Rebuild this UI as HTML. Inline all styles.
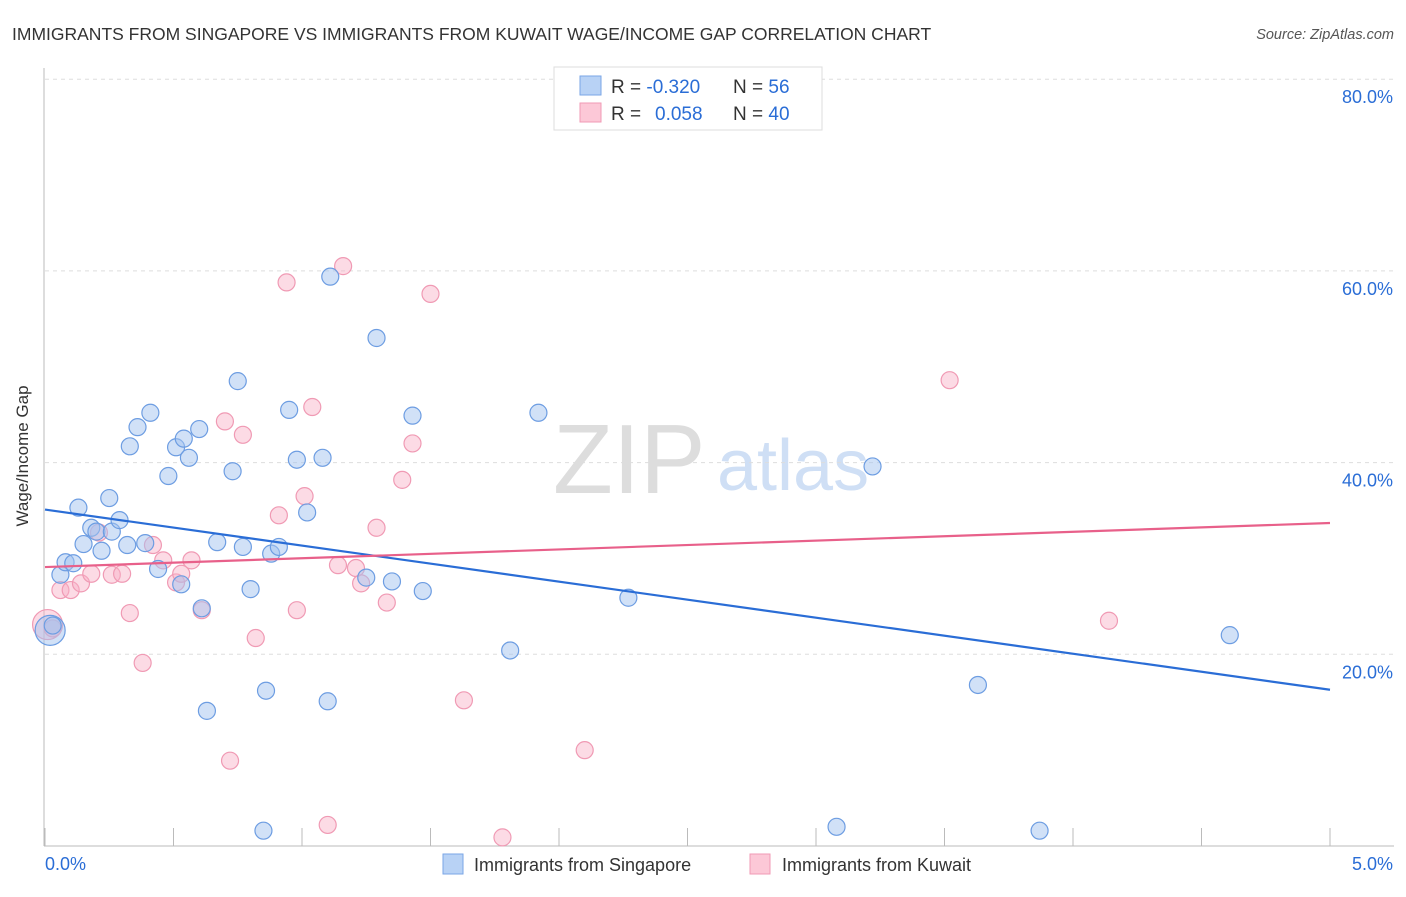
<!DOCTYPE html>
<html><head><meta charset="utf-8"><style>
body{margin:0;background:#fff;font-family:"Liberation Sans",sans-serif}
svg text{font-family:"Liberation Sans",sans-serif}
</style></head><body>
<svg id="c" width="1406" height="892">
<text x="12" y="40" font-size="17.5" fill="#333">IMMIGRANTS FROM SINGAPORE VS IMMIGRANTS FROM KUWAIT WAGE/INCOME GAP CORRELATION CHART</text>
<text x="1394" y="39" font-size="14.5" fill="#555" font-style="italic" text-anchor="end">Source: ZipAtlas.com</text>
<text x="28" y="456" font-size="17" fill="#333" text-anchor="middle" transform="rotate(-90 28 456)">Wage/Income Gap</text>
<g><text x="553" y="493" font-size="98" fill="#ddd" font-family="Liberation Serif,serif">ZIP</text><text x="717" y="490" font-size="72" fill="#cfdff5">atlas</text></g>
<g id="grid"></g><g id="axes"></g><g id="pts"></g><g id="lines"></g>
<g>
<rect x="554" y="67" width="268" height="63" fill="#fff" stroke="#ddd"/>
<rect x="580" y="76" width="21" height="19" fill="#b8d2f5" stroke="#7aa6e6"/>
<rect x="580" y="103" width="21" height="19" fill="#fcc8d7" stroke="#f09ab4"/>
<text x="611" y="93" font-size="19" fill="#333">R = <tspan fill="#2a6dd6">-0.320</tspan></text>
<text x="733" y="93" font-size="19" fill="#333">N = <tspan fill="#2a6dd6">56</tspan></text>
<text x="611" y="120" font-size="19" fill="#333">R = <tspan fill="#2a6dd6" x="655">0.058</tspan></text>
<text x="733" y="120" font-size="19" fill="#333">N = <tspan fill="#2a6dd6">40</tspan></text>
</g>
<g>
<rect x="443" y="854" width="20" height="20" fill="#b8d2f5" stroke="#7aa6e6"/>
<text x="474" y="871" font-size="18" fill="#333">Immigrants from Singapore</text>
<rect x="750" y="854" width="20" height="20" fill="#fcc8d7" stroke="#f09ab4"/>
<text x="782" y="871" font-size="18" fill="#333">Immigrants from Kuwait</text>
</g>
</svg>
<script>
const xTicks=[0,5];
const yTicks=[20,40,60,80];
const blueX=[0.02,0.03,0.06,0.08,0.11,0.13,0.15,0.18,0.20,0.22,0.25,0.26,0.29,0.32,0.33,0.36,0.39,0.41,0.44,0.48,0.51,0.53,0.54,0.56,0.60,0.61,0.63,0.67,0.73,0.75,0.77,0.80,0.85,0.86,0.88,0.91,0.95,0.98,1.02,1.08,1.10,1.11,1.25,1.29,1.35,1.43,1.47,1.81,1.92,2.27,3.08,3.22,3.63,3.87,4.61];
const blueY=[22.5,23.0,28.3,29.6,29.5,35.3,31.5,33.2,32.8,30.8,36.3,32.8,34.0,31.4,41.7,43.7,31.6,45.2,28.9,38.6,41.6,27.3,42.5,40.5,43.5,24.8,14.1,31.7,39.1,48.5,31.2,26.8,1.6,16.2,30.5,31.2,45.5,40.3,34.8,40.5,15.1,59.4,28.0,53.0,27.6,44.9,26.6,20.4,45.2,25.9,2.0,39.6,16.8,1.6,22.0];
const pinkX=[0.01,0.03,0.06,0.10,0.14,0.18,0.21,0.26,0.30,0.33,0.38,0.42,0.46,0.51,0.53,0.57,0.61,0.70,0.72,0.77,0.82,0.91,0.94,0.98,1.01,1.04,1.10,1.14,1.16,1.21,1.23,1.29,1.33,1.39,1.43,1.50,1.63,1.78,2.10,3.52,4.14];
const pinkY=[23.1,22.7,26.7,26.7,27.4,28.4,32.7,28.3,28.4,24.3,19.1,31.4,29.8,27.5,28.4,29.8,24.6,44.3,8.9,42.9,21.7,34.5,58.8,24.6,36.5,45.8,2.2,29.3,60.5,29.0,27.4,33.2,25.4,38.2,42.0,57.6,15.2,0.9,10.0,48.6,23.5];
const blueTrend=[35.1,16.3];
const pinkTrend=[29.1,33.7];
const X=v=>45+v/5*1285, Y=v=>846-v/20*191.7;
const NS='http://www.w3.org/2000/svg';
function mk(t,a,p){const e=document.createElementNS(NS,t);for(const k in a)e.setAttribute(k,a[k]);p.appendChild(e);return e;}
const grid=document.getElementById('grid'),axes=document.getElementById('axes'),pts=document.getElementById('pts'),lines=document.getElementById('lines');
yTicks.forEach(t=>{
 const l=mk('line',{x1:45,x2:1394,y1:Y(t),y2:Y(t),stroke:'#ddd','stroke-dasharray':'4,4'},grid);
 
 
 const tx=mk('text',{x:1393,y:Y(t)+24,'font-size':18,fill:'#2a6dd6','text-anchor':'end'},axes);
 tx.textContent=t.toFixed(1)+'%';
 
 
});
const a1=mk('line',{x1:44,x2:44,y1:68,y2:846,stroke:'#bbb'},axes);


const a2=mk('line',{x1:44,x2:1394,y1:846,y2:846,stroke:'#bbb'},axes);


for(let i=0;i<=10;i++){const v=i*0.5;
 const tk=mk('line',{x1:X(v),x2:X(v),y1:828,y2:846,stroke:'#bbb'},axes);
 
 
}
xTicks.forEach((t,i)=>{
 const tx=mk('text',{x:i==0?45:1393,y:870,'font-size':18,fill:'#2a6dd6','text-anchor':i==0?'start':'end'},axes);
 tx.textContent=t.toFixed(1)+'%';
 
 
});
function dots(xs,ys,fill,stroke,name){xs.forEach((x,i)=>{
 const c=mk('circle',{cx:X(x),cy:Y(ys[i]),r:i==0?15:8.5,fill:fill,stroke:stroke,'stroke-width':1.2},pts);
 
 
});}
dots(pinkX,pinkY,'rgba(248,175,198,0.45)','#f09ab4','kuwait-point');
dots(blueX,blueY,'rgba(164,196,240,0.5)','#6d9de2','singapore-point');
const bl=mk('line',{x1:X(0),x2:X(5),y1:Y(blueTrend[0]),y2:Y(blueTrend[1]),stroke:'#2a6dd6','stroke-width':2.2},lines);


const pl=mk('line',{x1:X(0),x2:X(5),y1:Y(pinkTrend[0]),y2:Y(pinkTrend[1]),stroke:'#e8608a','stroke-width':2.2},lines);


</script>
</body></html>
